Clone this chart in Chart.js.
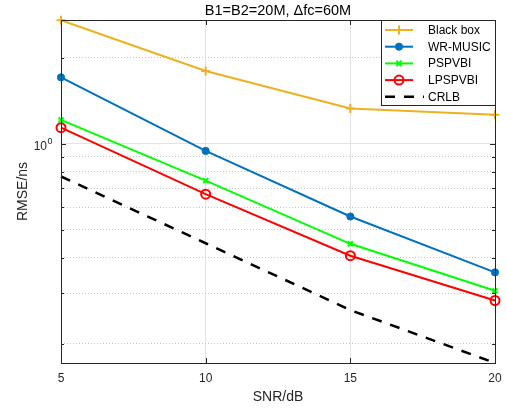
<!DOCTYPE html>
<html>
<head>
<meta charset="utf-8">
<script src="https://cdn.jsdelivr.net/npm/chart.js@4.4.1/dist/chart.umd.min.js"></script>
<style>
  html, body { margin: 0; padding: 0; background: #fff; }
  #wrap { width: 507px; height: 409px; }
</style>
</head>
<body>
<div id="wrap"><canvas id="c" width="507" height="409"></canvas></div>
<script>
// Datos (RMSE en ns frente a SNR en dB)
var snr = [5, 10, 15, 20];
var blackBox = [2.71, 1.80, 1.33, 1.265];
var wrMusic = [1.71, 0.945, 0.557, 0.355];
var pspvbi = [1.213, 0.744, 0.447, 0.306];
var lpspvbi = [1.14, 0.667, 0.406, 0.283];
var crlb = [0.769, 0.449, 0.262, 0.171];

var xTicks = [5, 10, 15, 20];
var yTicks = [0.2, 0.3, 0.4, 0.5, 0.6, 0.7, 0.8, 0.9, 1, 2];
var yMin = 0.171, yMax = 2.715;
var titleText = "B1=B2=20M, \u0394fc=60M";

var FONT = "'Liberation Sans', Arial, Helvetica, sans-serif";
var AXIS = "#262626";
var Y_PAD = 14;

function pts(arr) {
  return snr.map(function (x, i) { return { x: x, y: arr[i] }; });
}

function serie(label, arr, color, style, radius, pbw, fill, dash, width) {
  return {
    label: label,
    data: pts(arr),
    borderColor: color,
    backgroundColor: color,
    borderWidth: width || 2,
    borderDash: dash || [],
    pointStyle: style,
    pointRadius: radius,
    pointBorderWidth: pbw,
    pointBorderColor: color,
    pointBackgroundColor: fill,
    tension: 0,
    clip: false
  };
}

var datasets = [
  serie("Black box", blackBox, "#EDB120", "cross", 4.5, 2, "#EDB120"),
  serie("WR-MUSIC", wrMusic, "#0072BD", "circle", 3.6, 1, "#0072BD"),
  serie("PSPVBI", pspvbi, "#00FF00", "crossRot", 3.5, 2, "#00FF00"),
  serie("LPSPVBI", lpspvbi, "#FF0000", "circle", 4.5, 2, "rgba(0,0,0,0)"),
  serie("CRLB", crlb, "#000000", "circle", 0, 0, "#000000", [10, 9], 2.5)
];

// ---------- Título y exponente del 10^0 ----------
var textPlugin = {
  id: "mtext",
  afterDraw: function (chart) {
    var ctx = chart.ctx, a = chart.chartArea;
    var py = chart.scales.y.getPixelForValue(1);
    ctx.save();
    ctx.font = "14.5px " + FONT;
    ctx.fillStyle = "#000";
    ctx.textAlign = "center";
    ctx.textBaseline = "middle";
    ctx.fillText(titleText, (a.left + a.right) / 2, 11);
    ctx.font = "9px " + FONT;
    ctx.fillStyle = AXIS;
    ctx.textAlign = "left";
    ctx.fillText("0", a.left - Y_PAD + 0.5, py - 2);
    ctx.restore();
  }
};

// ---------- Caja de ejes con marcas hacia dentro ----------
var boxPlugin = {
  id: "mbox",
  afterDatasetsDraw: function (chart) {
    var ctx = chart.ctx, a = chart.chartArea;
    var sx = chart.scales.x, sy = chart.scales.y;
    ctx.save();
    ctx.strokeStyle = AXIS;
    ctx.lineWidth = 1;
    ctx.beginPath();
    xTicks.forEach(function (v) {
      var px = Math.round(sx.getPixelForValue(v)) + 0.5;
      ctx.moveTo(px, a.bottom); ctx.lineTo(px, a.bottom - 5);
      ctx.moveTo(px, a.top); ctx.lineTo(px, a.top + 5);
    });
    yTicks.forEach(function (v) {
      var py = Math.round(sy.getPixelForValue(v)) + 0.5;
      var len = v === 1 ? 5 : 3;
      ctx.moveTo(a.left, py); ctx.lineTo(a.left + len, py);
      ctx.moveTo(a.right, py); ctx.lineTo(a.right - len, py);
    });
    ctx.stroke();
    ctx.strokeRect(Math.round(a.left) + 0.5, Math.round(a.top) + 0.5,
      Math.round(a.right - a.left), Math.round(a.bottom - a.top));
    ctx.restore();
  }
};

// ---------- Leyenda dentro del gráfico ----------
function marca(ctx, ds, x, y) {
  var r = ds.pointRadius;
  if (!r) return;
  ctx.save();
  ctx.lineWidth = ds.pointBorderWidth;
  ctx.strokeStyle = ds.pointBorderColor;
  ctx.fillStyle = ds.pointBackgroundColor;
  ctx.setLineDash([]);
  ctx.beginPath();
  if (ds.pointStyle === "cross") {
    ctx.moveTo(x - r, y); ctx.lineTo(x + r, y);
    ctx.moveTo(x, y - r); ctx.lineTo(x, y + r);
    ctx.stroke();
  } else if (ds.pointStyle === "crossRot") {
    var d = r * 0.75;
    ctx.moveTo(x - d, y - d); ctx.lineTo(x + d, y + d);
    ctx.moveTo(x - d, y + d); ctx.lineTo(x + d, y - d);
    ctx.stroke();
  } else {
    ctx.arc(x, y, r, 0, Math.PI * 2);
    ctx.fill();
    ctx.stroke();
  }
  ctx.restore();
}

var legendPlugin = {
  id: "mlegend",
  afterDraw: function (chart) {
    var ctx = chart.ctx, a = chart.chartArea;
    var w = 114, h = 85;
    var x0 = Math.round(a.right) - w, y0 = Math.round(a.top);
    ctx.save();
    ctx.fillStyle = "#fff";
    ctx.fillRect(x0, y0, w, h);
    ctx.strokeStyle = AXIS;
    ctx.lineWidth = 1;
    ctx.strokeRect(x0 + 0.5, y0 + 0.5, w, h);
    ctx.font = "12px " + FONT;
    ctx.textBaseline = "middle";
    ctx.textAlign = "left";
    chart.data.datasets.forEach(function (ds, i) {
      var y = y0 + 10 + i * 16.7;
      var dashed = ds.borderDash && ds.borderDash.length;
      ctx.save();
      ctx.strokeStyle = ds.borderColor;
      ctx.lineWidth = ds.borderWidth;
      ctx.setLineDash(dashed ? [10, 9] : []);
      ctx.beginPath();
      ctx.moveTo(x0 + 4, y);
      ctx.lineTo(x0 + (dashed ? 43 : 32), y);
      ctx.stroke();
      ctx.restore();
      marca(ctx, ds, x0 + 18, y);
      ctx.fillStyle = "#000";
      ctx.fillText(ds.label, x0 + 47, y + 0.5);
    });
    ctx.restore();
  }
};

new Chart(document.getElementById("c"), {
  type: "line",
  data: { datasets: datasets },
  options: {
    responsive: false,
    animation: false,
    devicePixelRatio: 1,
    events: [],
    layout: { padding: { top: 20, right: 12, left: 0, bottom: 0 } },
    plugins: { legend: { display: false }, tooltip: { enabled: false }, title: { display: false } },
    scales: {
      x: {
        type: "linear",
        min: 5, max: 20,
        afterBuildTicks: function (s) { s.ticks = xTicks.map(function (v) { return { value: v }; }); },
        afterFit: function (s) { s.height = 46; s.paddingLeft = 0; s.paddingRight = 0; },
        ticks: {
          autoSkip: false, maxRotation: 0, padding: 8,
          color: AXIS, font: { family: FONT, size: 12 },
          callback: function (v) { return String(v); }
        },
        grid: {
          drawTicks: false,
          lineWidth: 1,
          color: function (c) {
            var v = c.tick && c.tick.value;
            return (v === 5 || v === 20) ? "rgba(0,0,0,0)" : "#e3e3e3";
          }
        },
        border: { display: false },
        title: {
          display: true, text: "SNR/dB", color: AXIS,
          font: { family: FONT, size: 14 }, padding: { top: 0, bottom: 3 }
        }
      },
      y: {
        type: "logarithmic",
        min: yMin, max: yMax,
        afterBuildTicks: function (s) { s.ticks = yTicks.map(function (v) { return { value: v }; }); },
        afterFit: function (s) { s.width = 61; s.paddingTop = 0; s.paddingBottom = 0; },
        ticks: {
          autoSkip: false, padding: Y_PAD, labelOffset: 3,
          color: AXIS, font: { family: FONT, size: 12 },
          callback: function (v) { return v === 1 ? "10" : ""; }
        },
        grid: {
          drawTicks: false,
          lineWidth: 1,
          color: function (c) {
            return (c.tick && c.tick.value === 1) ? "#e3e3e3" : "#c4c4c4";
          }
        },
        border: {
          display: false,
          dash: function (c) { return (c.tick && c.tick.value !== 1) ? [1, 2] : []; }
        },
        title: {
          display: true, text: "RMSE/ns", color: AXIS,
          font: { family: FONT, size: 14 }, padding: { top: 15, bottom: 0 }
        }
      }
    }
  },
  plugins: [textPlugin, boxPlugin, legendPlugin]
});
</script>
</body>
</html>
